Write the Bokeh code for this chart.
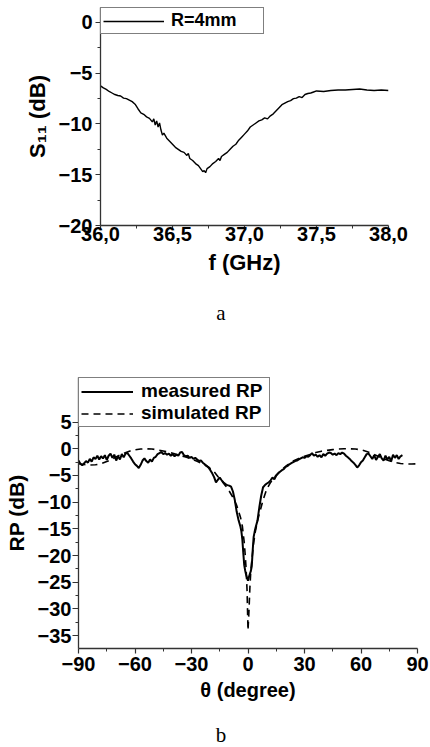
from bokeh.plotting import figure
from bokeh.models import FixedTicker, Legend, LegendItem, Div
from bokeh.layouts import column
from bokeh.embed import file_html
from bokeh.resources import INLINE

# ---------------- data: panel a (S11 vs frequency) ----------------
freq_ghz = [36.00, 36.02, 36.04, 36.06, 36.08, 36.10, 36.12, 36.14, 36.16, 36.18,
            36.20, 36.22, 36.24, 36.26, 36.28, 36.30, 36.32, 36.34, 36.36, 36.37,
            36.38, 36.39, 36.40, 36.41, 36.42, 36.43, 36.44, 36.46, 36.48, 36.50,
            36.52, 36.54, 36.56, 36.58, 36.60, 36.61, 36.62, 36.64, 36.66, 36.68,
            36.70, 36.71, 36.72, 36.73, 36.74, 36.76, 36.78, 36.80, 36.82, 36.83,
            36.84, 36.86, 36.88, 36.90, 36.92, 36.94, 36.96, 36.98, 37.00, 37.02,
            37.04, 37.06, 37.08, 37.10, 37.12, 37.14, 37.16, 37.18, 37.20, 37.22,
            37.24, 37.26, 37.28, 37.30, 37.32, 37.34, 37.36, 37.38, 37.40, 37.42,
            37.44, 37.46, 37.48, 37.50, 37.55, 37.60, 37.65, 37.70, 37.75, 37.80,
            37.85, 37.90, 37.95, 38.00]
s11_db = [-6.25, -6.45, -6.6, -6.8, -6.95, -7.1, -7.2, -7.25, -7.45, -7.5,
          -7.65, -7.8, -8.05, -8.5, -8.9, -9.05, -9.3, -9.45, -9.8, -9.5,
          -10.1, -9.7, -10.3, -9.9, -10.6, -11.1, -10.9, -11.4, -11.7, -12.0,
          -12.3, -12.5, -12.7, -12.8, -13.1, -12.9, -13.4, -13.6, -13.9, -14.1,
          -14.5, -14.7, -14.6, -14.8, -14.4, -14.2, -13.9, -13.7, -13.4, -13.6,
          -13.2, -13.0, -12.8, -12.5, -12.2, -12.0, -11.6, -11.3, -11.0, -10.7,
          -10.3, -10.1, -9.9, -9.7, -9.6, -9.4, -9.5, -9.2, -9.0, -8.7,
          -8.4, -8.1, -7.95, -7.8, -7.7, -7.5, -7.45, -7.3, -7.4, -7.1,
          -7.0, -6.95, -6.85, -6.75, -6.8, -6.7, -6.65, -6.65, -6.6, -6.55,
          -6.65, -6.7, -6.65, -6.7]
f_ticks = [36.0, 36.5, 37.0, 37.5, 38.0]
f_tick_labels = ["36,0", "36,5", "37,0", "37,5", "38,0"]
f_minor = [36.25, 36.75, 37.25, 37.75]
s11_ticks = [-20, -15, -10, -5, 0]
s11_minor = [-17.5, -12.5, -7.5, -2.5]

# ---------------- data: panel b (radiation pattern) ----------------
theta_meas = [-90, -89, -88, -86, -85, -84, -83, -82, -81, -80, -79, -78, -77, -76, -75,
              -74, -73, -72, -71, -70, -69, -68, -67, -66, -65, -64, -63, -62, -61, -60,
              -59, -58, -57, -56, -55, -54, -53, -52, -51, -50, -49, -48, -47, -46, -45,
              -44, -43, -42, -41, -40, -39, -38, -37, -36, -35, -34, -33, -32, -31, -30,
              -29, -28, -27, -26, -25, -24, -23, -22, -21, -20, -19, -18, -17, -16, -15,
              -14, -13, -12, -11, -10, -9, -8, -7, -6, -5, -4, -3.5, -3, -2.5, -2,
              -1.5, -1, -0.5, 0, 0.5, 1, 1.5, 2, 2.5, 3, 3.5, 4, 5, 6, 7,
              8, 9, 10, 11, 12, 13, 14, 15, 16, 17, 18, 19, 20, 21, 22,
              23, 24, 25, 26, 27, 28, 29, 30, 31, 32, 33, 34, 35, 36, 37,
              38, 39, 40, 41, 42, 43, 44, 45, 46, 47, 48, 49, 50, 51, 52,
              53, 54, 55, 56, 57, 58, 59, 60, 61, 62, 63, 64, 65, 66, 67,
              68, 69, 70, 71, 72, 73, 74, 75, 76, 77, 78, 79, 80, 81, 82]
rp_meas = [-2.2, -2.8, -3.1, -2.3, -2.6, -1.9, -2.4, -1.6, -1.9, -1.3, -2.0, -1.4, -1.8, -1.2, -2.1,
           -1.3, -0.9, -1.7, -1.1, -2.2, -1.4, -2.0, -1.0, -1.6, -0.9, -0.8, -1.3, -1.8, -2.4, -2.9,
           -3.2, -3.6, -3.0, -2.2, -1.8, -2.3, -2.6, -2.0, -2.4, -1.7, -1.5, -1.0, -0.8, -0.6, -1.0,
           -0.8, -1.1, -0.9, -1.3, -1.0, -1.4, -1.1, -1.3, -0.7, -0.6, -1.2, -1.4, -1.3, -1.7, -1.5,
           -1.9, -1.7, -2.0, -2.3, -2.2, -2.6, -2.9, -3.2, -3.5, -4.0, -4.6, -5.3, -6.3, -5.8, -5.4,
           -5.9, -6.3, -6.6, -6.8, -6.9, -7.1, -8.0, -9.6, -11.8, -13.4, -14.6, -15.5, -17.0, -19.5, -21.8,
           -22.8, -23.6, -24.2, -24.7, -24.0, -23.4, -22.9, -22.0, -19.0, -16.5, -15.6, -14.8, -13.5, -11.0, -8.8,
           -7.2, -6.8, -6.5, -6.3, -5.9, -5.4, -5.7, -5.0, -4.6, -4.3, -4.0, -3.8, -3.4, -3.2, -2.9,
           -2.7, -2.5, -2.3, -2.2, -2.0, -1.8, -1.6, -1.7, -1.4, -1.5, -1.2, -0.8, -1.3, -1.1, -1.5,
           -1.2, -1.6, -1.0, -1.3, -0.9, -0.7, -0.8, -1.1, -0.9, -1.2, -0.8, -1.0, -0.7, -0.9, -1.3,
           -1.6, -1.9, -2.3, -2.6, -3.0, -3.5, -3.1, -2.5, -2.2, -1.6, -1.0, -0.9, -1.4, -1.9, -1.2,
           -2.1, -1.5, -1.0, -1.8, -2.2, -1.3, -2.0, -1.5, -2.4, -1.1, -1.7, -1.2, -1.9, -1.4, -1.2]
theta_sim = [-90, -87, -84, -81, -78, -75, -72, -69, -66, -63, -60, -57, -54, -51, -48,
             -45, -42, -39, -36, -33, -30, -27, -24, -21, -18, -16, -14, -12, -10, -8,
             -6, -4, -3, -2, -1.5, -1, -0.5, 0, 0.5, 1, 1.5, 2, 3, 4, 5,
             6, 8, 10, 12, 14, 16, 18, 21, 24, 27, 30, 33, 36, 39, 42,
             45, 48, 51, 54, 57, 60, 63, 66, 69, 72, 75, 78, 81, 84, 87, 90]
rp_sim = [-2.8, -2.95, -3.05, -3.0, -2.8, -2.4, -1.9, -1.35, -0.85, -0.45, -0.2, -0.05, 0.0, -0.05, -0.2,
          -0.4, -0.65, -0.95, -1.25, -1.55, -1.9, -2.35, -2.85, -3.4, -4.3, -5.2, -6.0, -6.9, -7.9, -9.1,
          -10.6, -12.8, -14.5, -17.5, -19.8, -22.5, -26.5, -34.0, -30.5, -26.0, -22.8, -21.0, -17.6, -15.3, -13.6,
          -12.2, -9.6, -7.5, -6.3, -5.3, -4.6, -3.9, -3.0, -2.3, -1.8, -1.4, -1.05, -0.7, -0.45, -0.3,
          -0.15, -0.05, 0.0, 0.0, -0.05, -0.2, -0.5, -0.9, -1.4, -1.85, -2.25, -2.55, -2.75, -2.85, -2.85, -2.8]
theta_ticks = [-90, -60, -30, 0, 30, 60, 90]
theta_minor = [-75, -45, -15, 15, 45, 75]
rp_ticks = [-35, -30, -25, -20, -15, -10, -5, 0, 5]
rp_minor = [-37.5, -32.5, -27.5, -22.5, -17.5, -12.5, -7.5, -2.5, 2.5]

FONT = "Liberation Sans"
SERIF = "Liberation Serif"
AXIS_COLOR = "#333333"


def style_axis(ax, ticks, minor, tick_out, standoff, tick_size, label_size):
    ax.ticker = FixedTicker(ticks=ticks, minor_ticks=minor)
    ax.axis_line_color = AXIS_COLOR
    ax.axis_line_width = 1.3
    ax.major_tick_line_color = AXIS_COLOR
    ax.minor_tick_line_color = AXIS_COLOR
    ax.major_tick_line_width = 1.2
    ax.minor_tick_line_width = 1.0
    ax.major_tick_in = 0
    ax.major_tick_out = tick_out
    ax.minor_tick_in = 0
    ax.minor_tick_out = 3
    ax.major_label_standoff = standoff
    ax.major_label_text_font = FONT
    ax.major_label_text_font_style = "bold"
    ax.major_label_text_font_size = tick_size
    ax.major_label_text_color = "black"
    ax.axis_label_text_font = FONT
    ax.axis_label_text_font_style = "bold"
    ax.axis_label_text_font_size = label_size
    ax.axis_label_text_color = "black"


def base_style(p):
    p.xgrid.visible = False
    p.ygrid.visible = False
    p.outline_line_color = None
    p.background_fill_color = "white"
    p.border_fill_color = "white"


def caption(text, height):
    return Div(text=text, width=430, height=height,
               styles={"text-align": "center", "text-indent": "12px",
                       "font-family": SERIF,
                       "font-size": "21px", "line-height": "21px",
                       "color": "black", "margin": "0", "padding": "0"})


# ---------------- panel a ----------------
p1 = figure(width=430, height=303, x_range=(36.0, 38.0), y_range=(-20, 1.47),
            output_backend="svg", toolbar_location=None, frame_align=False,
            min_border_left=100, min_border_right=42, min_border_top=7, min_border_bottom=78)
base_style(p1)
r1 = p1.line(freq_ghz, s11_db, line_color="black", line_width=1.4)
style_axis(p1.xaxis[0], f_ticks, f_minor, 3, -2, "20px", "22px")
style_axis(p1.yaxis[0], s11_ticks, s11_minor, 5, 3, "20px", "22px")
p1.xaxis[0].major_label_overrides = dict(zip(f_ticks, f_tick_labels))
p1.xaxis[0].axis_label = "f (GHz)"
p1.xaxis[0].axis_label_standoff = 6
p1.yaxis[0].axis_label = "S\u2081\u2081 (dB)"
p1.yaxis[0].axis_label_standoff = 6

leg1 = Legend(items=[LegendItem(label="R=4mm", renderers=[r1])], location="top_left",
              margin=0, padding=2, spacing=0, glyph_width=61, glyph_height=18,
              label_height=18, label_standoff=7, label_width=90,
              border_line_color="black", border_line_width=1,
              background_fill_color="white", background_fill_alpha=1.0,
              label_text_font=FONT, label_text_font_style="bold",
              label_text_font_size="18px", label_text_color="black")
p1.add_layout(leg1)

# ---------------- panel b ----------------
p2 = figure(width=430, height=392, x_range=(-90, 90), y_range=(-37.4, 13.35),
            output_backend="svg", toolbar_location=None, frame_align=False,
            min_border_left=78, min_border_right=13, min_border_top=44, min_border_bottom=77)
base_style(p2)
r_meas = p2.line(theta_meas, rp_meas, line_color="black", line_width=2.0)
r_sim = p2.line(theta_sim, rp_sim, line_color="black", line_width=1.6, line_dash="7 5")
style_axis(p2.xaxis[0], theta_ticks, theta_minor, 5, 3, "20px", "20px")
style_axis(p2.yaxis[0], rp_ticks, rp_minor, 6, 1, "20px", "21px")
p2.xaxis[0].axis_label = "\u03b8 (degree)"
p2.xaxis[0].axis_label_standoff = 5
p2.yaxis[0].axis_label = "RP (dB)"
p2.yaxis[0].axis_label_standoff = 7

leg2 = Legend(items=[LegendItem(label="measured RP", renderers=[r_meas]),
                     LegendItem(label="simulated RP", renderers=[r_sim])],
              location="top_left", margin=0, padding=2, spacing=0,
              glyph_width=52, glyph_height=21, label_height=21, label_standoff=8,
              label_width=126,
              border_line_color="black", border_line_width=1,
              background_fill_color="white", background_fill_alpha=1.0,
              label_text_font=FONT, label_text_font_style="bold",
              label_text_font_size="19px", label_text_color="black")
p2.add_layout(leg2)

layout = column(p1, caption("a", 30), p2, caption("b", 22), spacing=0)
open("out.html", "w").write(file_html(layout, INLINE))
